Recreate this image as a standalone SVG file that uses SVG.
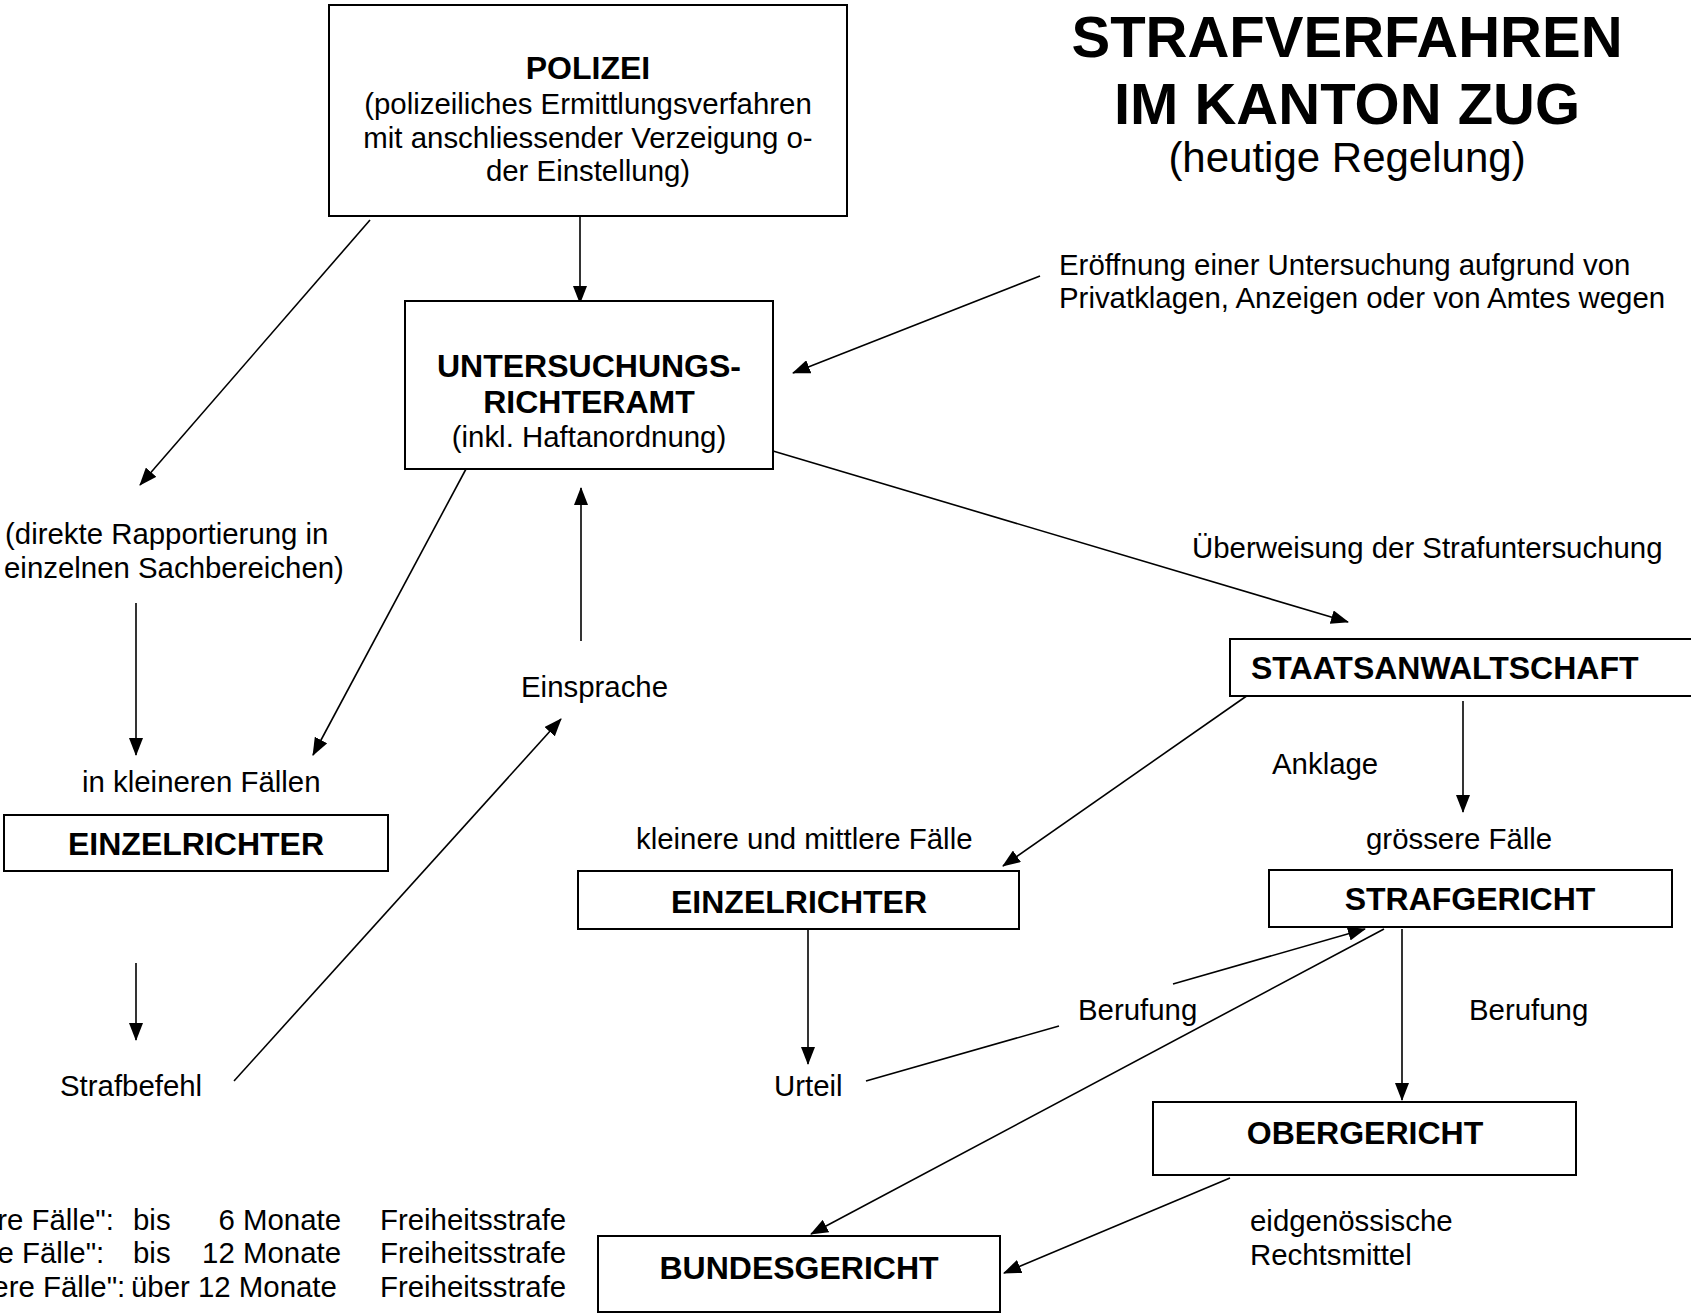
<svg xmlns="http://www.w3.org/2000/svg" width="1691" height="1315" viewBox="0 0 1691 1315">
<defs>
<marker id="ah" markerWidth="18" markerHeight="14" refX="17" refY="7" orient="auto" markerUnits="userSpaceOnUse">
<path d="M0,0 L18,7 L0,14 Z" fill="#000"/>
</marker>
<style>
.box{fill:#fff;stroke:#000;stroke-width:2}
.ln{fill:none;stroke:#000;stroke-width:1.6}
.ar{fill:none;stroke:#000;stroke-width:1.6;marker-end:url(#ah)}
.b{font-family:"Liberation Sans",Arial,sans-serif;font-weight:bold;font-size:32px;fill:#000}
.r{font-family:"Liberation Sans",Arial,sans-serif;font-size:29.4px;fill:#000}
.c{text-anchor:middle}
.e{text-anchor:end}
</style>
</defs>
<rect width="1691" height="1315" fill="#fff"/>

<g id="title">
<text class="b c" x="1347" y="57" style="font-size:58px">STRAFVERFAHREN</text>
<text class="b c" x="1347" y="124" style="font-size:58px">IM KANTON ZUG</text>
<text class="r c" x="1347" y="172" style="font-size:42px">(heutige Regelung)</text>
</g>

<g id="connectors">
<line class="ar" x1="580" y1="216" x2="580" y2="303"/>
<line class="ar" x1="370" y1="220" x2="140" y2="485"/>
<line class="ar" x1="1040" y1="276" x2="793" y2="373"/>
<line class="ar" x1="773" y1="451" x2="1348" y2="622"/>
<line class="ar" x1="466" y1="469" x2="313" y2="755"/>
<line class="ar" x1="136" y1="603" x2="136" y2="755"/>
<line class="ar" x1="581" y1="641" x2="581" y2="488"/>
<line class="ar" x1="234" y1="1081" x2="561" y2="719"/>
<line class="ar" x1="136" y1="963" x2="136" y2="1040"/>
<line class="ar" x1="1248" y1="695" x2="1003" y2="866"/>
<line class="ar" x1="1463" y1="701" x2="1463" y2="812"/>
<line class="ar" x1="808" y1="929" x2="808" y2="1064"/>
<line class="ln" x1="866" y1="1081" x2="1059" y2="1026"/>
<line class="ar" x1="1173" y1="984" x2="1365" y2="929"/>
<line class="ar" x1="1384" y1="929" x2="811" y2="1234"/>
<line class="ar" x1="1402" y1="929" x2="1402" y2="1100"/>
<line class="ar" x1="1230" y1="1178" x2="1004" y2="1273"/>
</g>

<g id="polizei">
<rect class="box" x="329" y="5" width="518" height="211"/>
<text class="b c" x="588" y="79">POLIZEI</text>
<text class="r c" x="588" y="114">(polizeiliches Ermittlungsverfahren</text>
<text class="r c" x="588" y="148">mit anschliessender Verzeigung o-</text>
<text class="r c" x="588" y="181">der Einstellung)</text>
</g>

<g id="untersuchungsrichteramt">
<rect class="box" x="405" y="301" width="368" height="168"/>
<text class="b c" x="589" y="377">UNTERSUCHUNGS-</text>
<text class="b c" x="589" y="413">RICHTERAMT</text>
<text class="r c" x="589" y="447">(inkl. Haftanordnung)</text>
</g>

<g id="staatsanwaltschaft">
<rect class="box" x="1230" y="639" width="470" height="57"/>
<text class="b" x="1251" y="679">STAATSANWALTSCHAFT</text>
</g>

<g id="einzelrichter-links">
<rect class="box" x="4" y="815" width="384" height="56"/>
<text class="b c" x="196" y="855">EINZELRICHTER</text>
</g>

<g id="einzelrichter-mitte">
<rect class="box" x="578" y="871" width="441" height="58"/>
<text class="b c" x="799" y="913">EINZELRICHTER</text>
</g>

<g id="strafgericht">
<rect class="box" x="1269" y="870" width="403" height="57"/>
<text class="b c" x="1470" y="910">STRAFGERICHT</text>
</g>

<g id="obergericht">
<rect class="box" x="1153" y="1102" width="423" height="73"/>
<text class="b c" x="1365" y="1144">OBERGERICHT</text>
</g>

<g id="bundesgericht">
<rect class="box" x="598" y="1236" width="402" height="76"/>
<text class="b c" x="799" y="1279">BUNDESGERICHT</text>
</g>

<g id="labels">
<text class="r" x="1059" y="275">Eröffnung einer Untersuchung aufgrund von</text>
<text class="r" x="1059" y="308">Privatklagen, Anzeigen oder von Amtes wegen</text>
<text class="r" x="1192" y="558">Überweisung der Strafuntersuchung</text>
<text class="r" x="5" y="544">(direkte Rapportierung in</text>
<text class="r" x="4" y="578">einzelnen Sachbereichen)</text>
<text class="r" x="82" y="792">in kleineren Fällen</text>
<text class="r" x="60" y="1096">Strafbefehl</text>
<text class="r" x="521" y="697">Einsprache</text>
<text class="r" x="774" y="1096">Urteil</text>
<text class="r" x="636" y="849">kleinere und mittlere Fälle</text>
<text class="r" x="1272" y="774">Anklage</text>
<text class="r" x="1366" y="849">grössere Fälle</text>
<text class="r" x="1078" y="1020">Berufung</text>
<text class="r" x="1469" y="1020">Berufung</text>
<text class="r" x="1250" y="1231">eidgenössische</text>
<text class="r" x="1250" y="1265">Rechtsmittel</text>
</g>

<g id="legende">
<text class="r" x="-90" y="1230">"kleinere Fälle":</text>
<text class="r" x="-93" y="1263">"mittlere Fälle":</text>
<text class="r" x="-90" y="1297">"grössere Fälle":</text>
<text class="r" x="133" y="1230">bis</text>
<text class="r" x="133" y="1263">bis</text>
<text class="r" x="131" y="1297">über 12 Monate</text>
<text class="r e" x="341" y="1230">6 Monate</text>
<text class="r e" x="341" y="1263">12 Monate</text>
<text class="r" x="380" y="1230">Freiheitsstrafe</text>
<text class="r" x="380" y="1263">Freiheitsstrafe</text>
<text class="r" x="380" y="1297">Freiheitsstrafe</text>
</g>
</svg>
